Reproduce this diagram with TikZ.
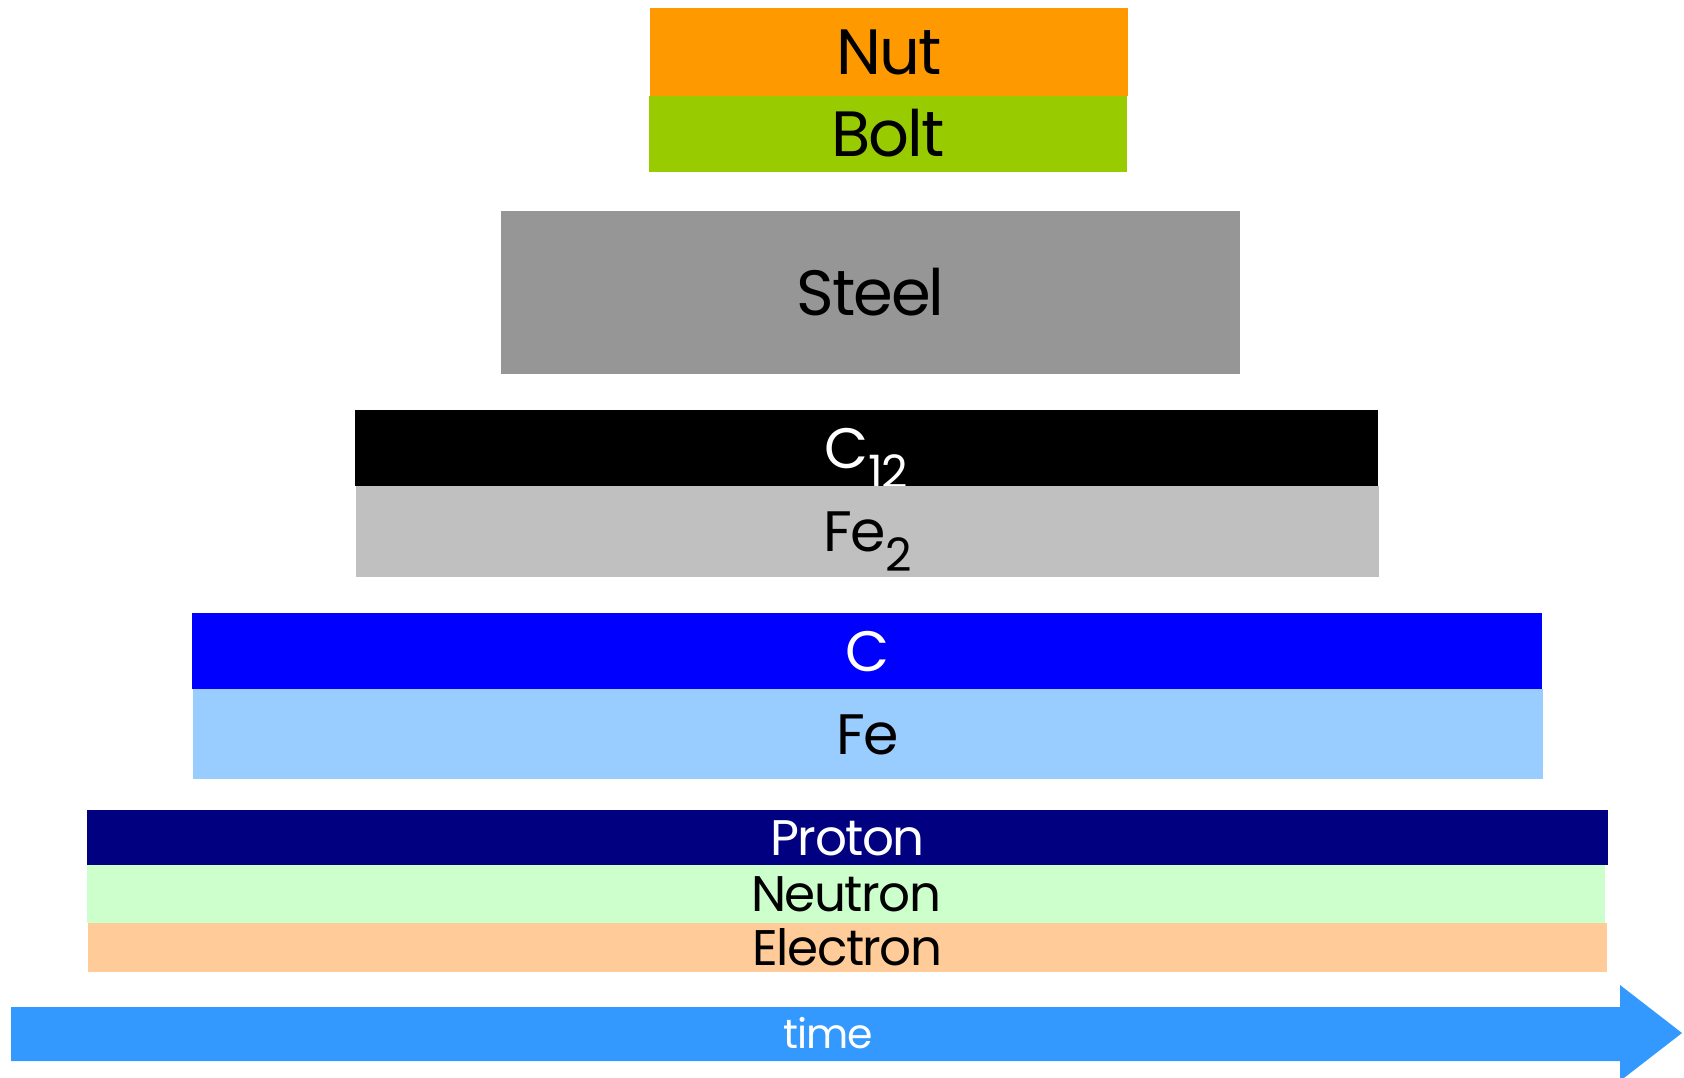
\documentclass[tikz,border=0pt]{standalone}
\usepackage{fontspec}
\setmainfont{Poppins}[LetterSpace=-3]

\definecolor{nutOrange}{HTML}{FF9900}
\definecolor{boltGreen}{HTML}{99CC00}
\definecolor{steelGray}{HTML}{969696}
\definecolor{feTwoGray}{HTML}{C0C0C0}
\definecolor{carbonBlue}{HTML}{0000FF}
\definecolor{ironBlue}{HTML}{99CCFF}
\definecolor{protonNavy}{HTML}{000080}
\definecolor{neutronGreen}{HTML}{CCFFCC}
\definecolor{electronPeach}{HTML}{FFCC99}
\definecolor{timeBlue}{HTML}{3399FF}

\newcommand{\lowsub}[1]{\raisebox{-20pt}{\fontsize{46pt}{46pt}\selectfont #1}}

\begin{document}
\begin{tikzpicture}
	[x=1pt, y=-1pt,
	layer/.style={rectangle, inner sep=0pt, text depth=0pt},
	bigText/.style={font=\fontsize{64pt}{64pt}\selectfont, text height=45pt},
	midText/.style={font=\fontsize{57pt}{57pt}\selectfont, text height=40pt},
	smallText/.style={font=\fontsize{50pt}{50pt}\selectfont, text height=35pt}]

	\useasboundingbox (0,0) rectangle (1684,1078);

	% fastener
	\node (nut) at ( 889,52 ) [layer, bigText, fill=nutOrange, minimum width=478pt, minimum height=88pt] {Nut};
	\node (bolt) at ( 888,134 ) [layer, bigText, fill=boltGreen, minimum width=478pt, minimum height=76pt] {Bolt};

	% material
	\node (steel) at ( 870.5,292.5 ) [layer, bigText, fill=steelGray, minimum width=739pt, minimum height=163pt] {Steel};

	% molecules
	\node (cTwelve) at ( 866.5,448 ) [layer, midText, fill=black, text=white, minimum width=1023pt, minimum height=76pt] {C\lowsub{12}};
	\node (feTwo) at ( 867.5,531.5 ) [layer, midText, fill=feTwoGray, minimum width=1023pt, minimum height=91pt] {Fe\lowsub{2}};

	% atoms
	\node (carbon) at ( 867,651 ) [layer, midText, fill=carbonBlue, text=white, minimum width=1350pt, minimum height=76pt] {C};
	\node (iron) at ( 868,734 ) [layer, midText, fill=ironBlue, minimum width=1350pt, minimum height=90pt] {Fe};

	% particles
	\node (proton) at ( 847.5,837.5 ) [layer, smallText, fill=protonNavy, text=white, minimum width=1521pt, minimum height=55pt] {Proton};
	\node (neutron) at ( 846,894 ) [layer, smallText, fill=neutronGreen, minimum width=1518pt, minimum height=58pt] {Neutron};
	\node (electron) at ( 847.5,947.5 ) [layer, smallText, fill=electronPeach, minimum width=1519pt, minimum height=49pt] {Electron};

	% time axis
	\fill[timeBlue] (11,1007) -- (1620,1007) -- (1620,985) -- (1682,1033) -- (1620,1081) -- (1620,1061) -- (11,1061) -- cycle;
	\node (time) at ( 828,1034 ) [font=\fontsize{41pt}{41pt}\selectfont, text=white, text height=29pt, text depth=0pt, inner sep=0pt] {time};

\end{tikzpicture}
\end{document}
